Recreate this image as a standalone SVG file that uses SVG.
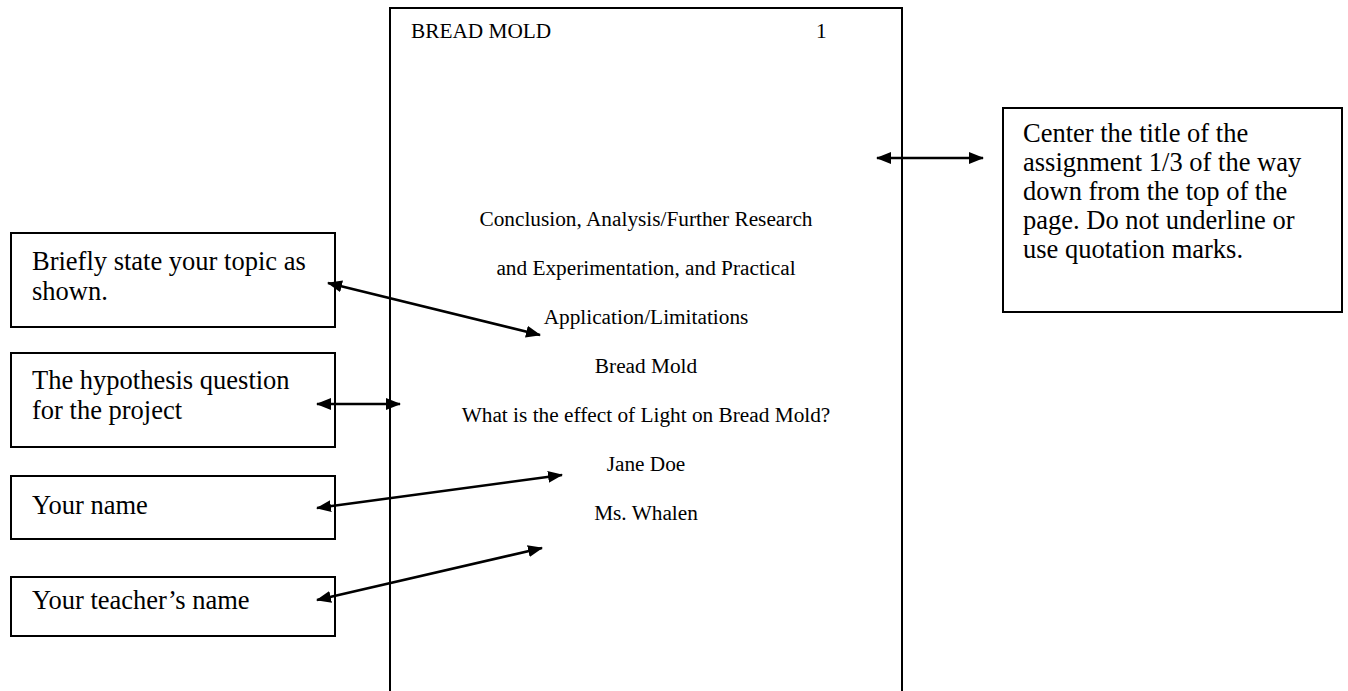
<svg xmlns="http://www.w3.org/2000/svg" width="1348" height="691" viewBox="0 0 1348 691">
  <style>
    .box { fill: #ffffff; stroke: #000000; stroke-width: 2; }
    .page { fill: none; stroke: #000000; stroke-width: 2; }
    .note { font-family: "Liberation Serif", "Times New Roman", serif; font-size: 26.5px; fill: #000000; }
    .doc { font-family: "Liberation Serif", "Times New Roman", serif; font-size: 21.3px; fill: #000000; }
    .mid { text-anchor: middle; }
    .conn { stroke: #000000; stroke-width: 2.5; fill: none; marker-start: url(#head); marker-end: url(#head); }
  </style>
  <defs>
    <marker id="head" viewBox="0 0 15 12" refX="14" refY="6" markerWidth="15" markerHeight="12" markerUnits="userSpaceOnUse" orient="auto-start-reverse">
      <path d="M0,0 L15,6 L0,12 Z" fill="#000000"/>
    </marker>
  </defs>
  <rect width="1348" height="691" fill="#ffffff"/>

  <!-- title page outline (open at the bottom) -->
  <g id="page">
    <path class="page" d="M390,700 L390,8 L902,8 L902,700"/>
    <text class="doc" x="411" y="38">BREAD MOLD</text>
    <text class="doc" x="816" y="38">1</text>
    <text class="doc mid" x="646" y="226">Conclusion, Analysis/Further Research</text>
    <text class="doc mid" x="646" y="275">and Experimentation, and Practical</text>
    <text class="doc mid" x="646" y="324">Application/Limitations</text>
    <text class="doc mid" x="646" y="373">Bread Mold</text>
    <text class="doc mid" x="646" y="422">What is the effect of Light on Bread Mold?</text>
    <text class="doc mid" x="646" y="471">Jane Doe</text>
    <text class="doc mid" x="646" y="520">Ms. Whalen</text>
  </g>

  <g id="note-title">
    <rect class="box" x="1003" y="108" width="339" height="204"/>
    <text class="note" x="1023" y="142">Center the title of the</text>
    <text class="note" x="1023" y="171">assignment 1/3 of the way</text>
    <text class="note" x="1023" y="200">down from the top of the</text>
    <text class="note" x="1023" y="229">page. Do not underline or</text>
    <text class="note" x="1023" y="258">use quotation marks.</text>
  </g>

  <g id="note-topic">
    <rect class="box" x="11" y="233" width="324" height="94"/>
    <text class="note" x="32" y="270">Briefly state your topic as</text>
    <text class="note" x="32" y="300">shown.</text>
  </g>

  <g id="note-hypothesis">
    <rect class="box" x="11" y="353" width="324" height="94"/>
    <text class="note" x="32" y="389">The hypothesis question</text>
    <text class="note" x="32" y="419">for the project</text>
  </g>

  <g id="note-name">
    <rect class="box" x="11" y="476" width="324" height="63"/>
    <text class="note" x="32" y="514">Your name</text>
  </g>

  <g id="note-teacher">
    <rect class="box" x="11" y="577" width="324" height="59"/>
    <text class="note" x="32" y="609">Your teacher’s name</text>
  </g>

  <g id="connectors">
    <line class="conn" x1="877" y1="158" x2="983" y2="158"/>
    <line class="conn" x1="328" y1="283" x2="540" y2="335"/>
    <line class="conn" x1="317" y1="404" x2="400" y2="404"/>
    <line class="conn" x1="317" y1="508" x2="562" y2="475"/>
    <line class="conn" x1="317" y1="600" x2="542" y2="548"/>
  </g>
</svg>
